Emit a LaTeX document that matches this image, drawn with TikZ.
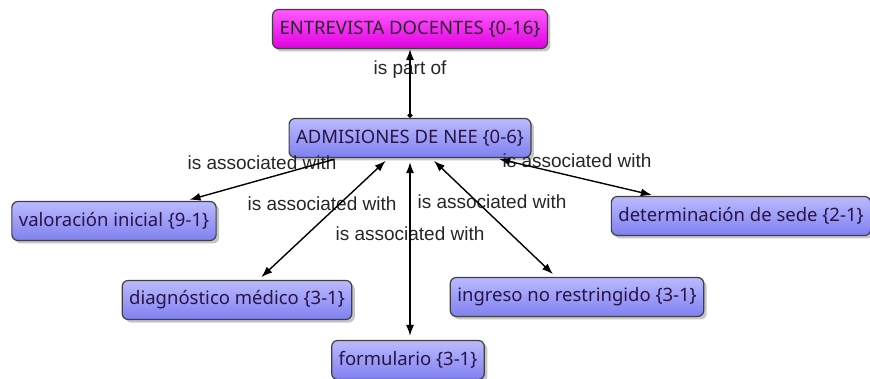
\documentclass[tikz,border=0pt]{standalone}
\usepackage{fontspec}
\setmainfont{Liberation Sans}
\newfontfamily\conceptfont{Noto Sans}
\usetikzlibrary{arrows.meta}
\usetikzlibrary{shadows}
\definecolor{conceptTop}{RGB}{186,186,255}
\definecolor{conceptBot}{RGB}{128,128,240}
\definecolor{rootTop}{RGB}{255,90,255}
\definecolor{rootBot}{RGB}{225,0,225}
\definecolor{conceptText}{RGB}{40,20,70}
\tikzset{
  concept/.style={draw=black!75,line width=1.2pt,rounded corners=6pt,top color=conceptTop,bottom color=conceptBot,
    drop shadow={shadow xshift=3pt,shadow yshift=-3pt,opacity=0.45},minimum height=39pt,inner xsep=7pt,
    font=\conceptfont\fontsize{18.5}{22}\selectfont,text=conceptText},
  rootconcept/.style={concept,top color=rootTop,bottom color=rootBot,text=black!85},
  link/.style={line width=1.4pt,shorten >=4pt,shorten <=4pt},
  linklabel/.style={font=\fontsize{19}{22}\selectfont,text=black!85,inner sep=0pt}
}
\begin{document}
\begin{tikzpicture}[x=1pt,y=-1pt]
\useasboundingbox (0,0) rectangle (870,379);
\node[rootconcept] (entrevista) at (410,29) {ENTREVISTA DOCENTES \{0-16\}};
\node[concept] (admisiones) at (410,138) {ADMISIONES DE NEE \{0-6\}};
\node[concept] (valoracion) at (114,221) {valoración inicial \{9-1\}};
\node[concept] (diagnostico) at (237,300) {diagnóstico médico \{3-1\}};
\node[concept] (formulario) at (408,360) {formulario \{3-1\}};
\node[concept] (ingreso) at (577,297) {ingreso no restringido \{3-1\}};
\node[concept] (sede) at (741,216) {determinación de sede \{2-1\}};
% labels
\node[linklabel] (lpart) at (410,70) {is part of};
\node[linklabel] (lval) at (262,163) {is associated with};
\node[linklabel] (ldiag) at (322,204) {is associated with};
\node[linklabel] (lform) at (410,234) {is associated with};
\node[linklabel] (ling) at (492,202) {is associated with};
\node[linklabel] (lsede) at (577,161) {is associated with};
% links
\draw[line width=1.4pt,{Circle[length=5pt]}-{Latex[length=11pt,width=8pt]}] (admisiones.north) -- (entrevista.south);
\draw[link,-{Latex[length=11pt,width=8pt]}] (admisiones) -- (valoracion);
\draw[link,{Latex[length=11pt,width=8pt]}-{Latex[length=11pt,width=8pt]}] (admisiones) -- (diagnostico);
\draw[link,{Latex[length=11pt,width=8pt]}-{Latex[length=11pt,width=8pt]}] (admisiones.south) -- (formulario.north -| admisiones.south);
\draw[link,{Latex[length=11pt,width=8pt]}-{Latex[length=11pt,width=8pt]}] (admisiones) -- (ingreso);
\draw[link,{Latex[length=11pt,width=8pt]}-{Latex[length=11pt,width=8pt]}] (admisiones) -- (sede);
\end{tikzpicture}
\end{document}
